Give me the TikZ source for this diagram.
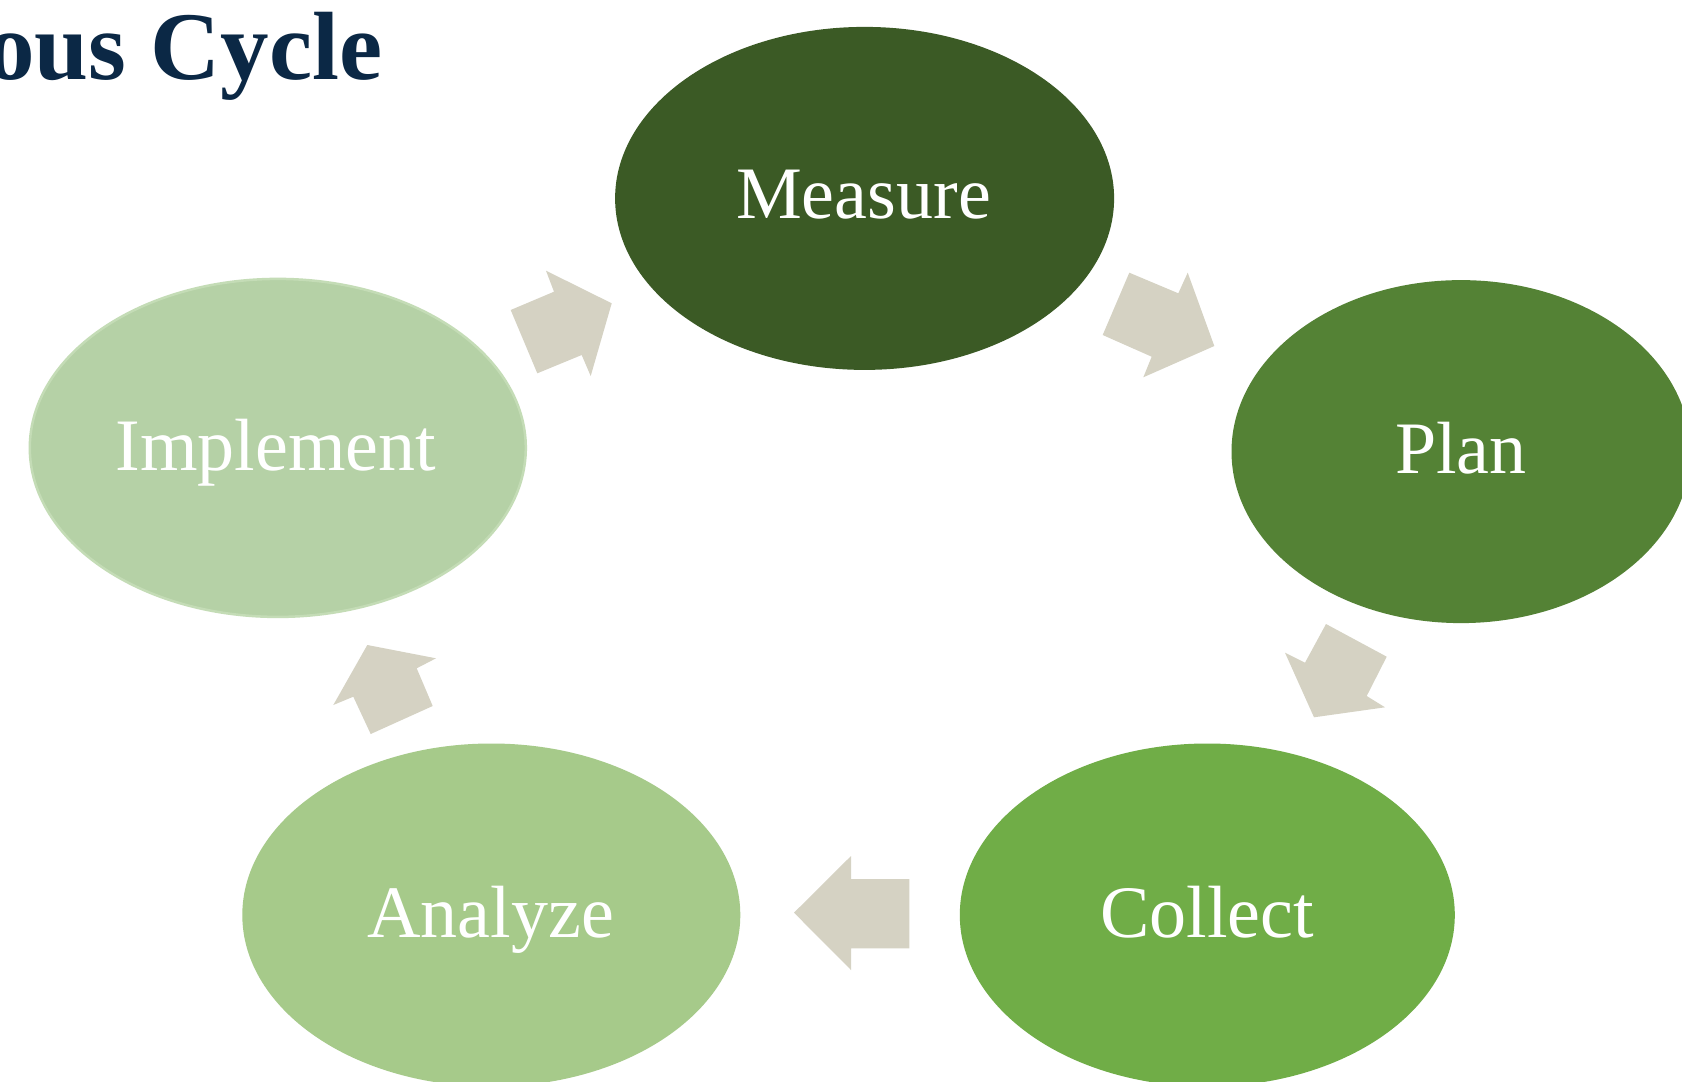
\documentclass[tikz,border=0pt]{standalone}
\usepackage{fontspec}
\setmainfont{Liberation Serif}
\usetikzlibrary{shapes.geometric}
\definecolor{cMeasure}{HTML}{3B5A25}
\definecolor{cPlan}{HTML}{548235}
\definecolor{cCollect}{HTML}{70AD47}
\definecolor{cAnalyze}{HTML}{A6CA8A}
\definecolor{cImplement}{HTML}{B5D1A6}
\definecolor{cImplLine}{HTML}{C4DCB6}
\definecolor{cArrow}{HTML}{D5D2C3}
\definecolor{cTitle}{HTML}{0B2845}
\tikzset{
  stage/.style={ellipse, inner sep=0pt, draw=none},
  stagelabel/.style={anchor=base, text=white, inner sep=0pt, font=\fontsize{74}{80}\selectfont},
  blockarrow/.style={fill=cArrow, draw=none},
}
\begin{document}
\begin{tikzpicture}[x=1pt,y=-1pt]
\useasboundingbox (0,0) rectangle (1682,1082);
\begin{scope}
\clip (0,0) rectangle (1682,1082);
\fill[white] (0,0) rectangle (1682,1082);
% title
\node[anchor=base west, inner sep=0pt, text=cTitle, font=\fontsize{97}{100}\selectfont\bfseries] (title) at (-14,79) {ous Cycle};
% stages
\node[stage, fill=cMeasure, minimum width=499pt, minimum height=343pt] (measure) at (864.6,198.4) {};
\node[stage, fill=cPlan, minimum width=459pt, minimum height=343pt] (plan) at (1461,451.6) {};
\node[stage, fill=cCollect, minimum width=495pt, minimum height=343pt] (collect) at (1207.3,915) {};
\node[stage, fill=cAnalyze, minimum width=498pt, minimum height=343pt] (analyze) at (491.3,915) {};
\node[stage, fill=cImplement, draw=cImplLine, line width=2.5pt, minimum width=496pt, minimum height=338pt] (implement) at (277.8,447.9) {};
% labels
\node[stagelabel] (lmeasure) at (863.5,218.8) {Measure};
\node[stagelabel] (lplan) at (1461,473) {Plan};
\node[stagelabel] (lcollect) at (1207,937.5) {Collect};
\node[stagelabel] (lanalyze) at (490.8,937.5) {Analyze};
\node[stagelabel] (limplement) at (275.7,470) {Implement};
% block arrows
\fill[blockarrow] (510.7,310) -- (537.3,373.3) -- (581.7,355) -- (590.7,376) -- (611.7,303.3) -- (546,270.7) -- (554,291.7) -- cycle;
\fill[blockarrow] (1129.3,272.7) -- (1178.3,293.3) -- (1187.7,272.7) -- (1214.3,346) -- (1143.3,377.3) -- (1151.7,356.7) -- (1102.7,335) -- cycle;
\fill[blockarrow] (1326,624) -- (1386.7,656.7) -- (1366.7,696) -- (1385,707.3) -- (1314,717.3) -- (1285,652.7) -- (1305,662.7) -- cycle;
\fill[blockarrow] (909.3,879) -- (851,879) -- (851,856) -- (794,912.7) -- (851,970) -- (851,948.3) -- (909.3,948.3) -- cycle;
\fill[blockarrow] (367.3,645) -- (436,658.3) -- (416.7,668.3) -- (432.7,706) -- (370.7,734) -- (353.3,696.7) -- (333.3,705) -- cycle;
\end{scope}
\end{tikzpicture}
\end{document}
